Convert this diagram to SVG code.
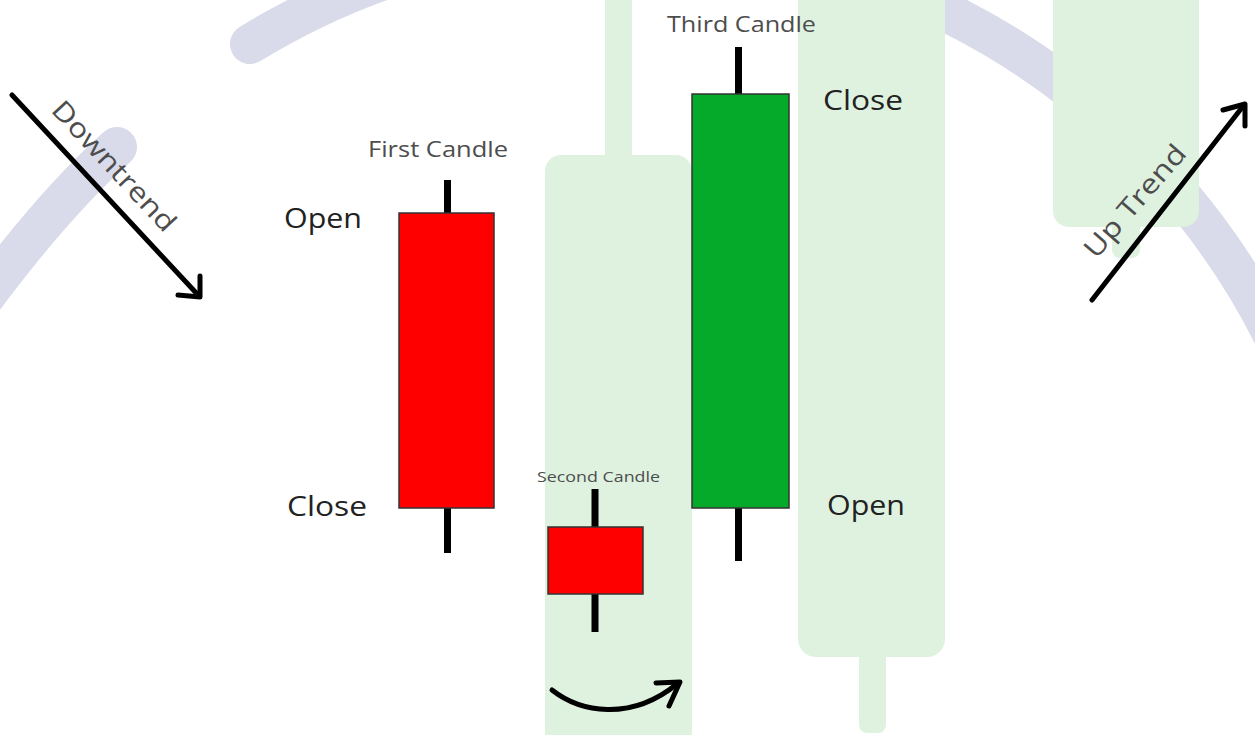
<svg xmlns="http://www.w3.org/2000/svg" width="1255" height="735" viewBox="0 0 1255 735">
  <style>
    .arc { fill: none; stroke: #d9dbea; stroke-width: 40; stroke-linecap: round; }
    .bg { fill: #dff2e0; }
    .wick { stroke: #000; stroke-width: 7; }
    .body { stroke: #333; stroke-width: 1.5; }
    .lbl { font-family: "Open Sans", "Liberation Sans", sans-serif; fill: #4d4d4d; }
    .oc { font-family: "Open Sans", "Liberation Sans", sans-serif; font-size: 27px; fill: #222; }
    .arrow { fill: none; stroke: #000; stroke-width: 5; stroke-linecap: round; stroke-linejoin: round; }
  </style>
  <rect width="1255" height="735" fill="#ffffff"/>

  <g id="background-arc">
    <path class="arc" d="M -25 310 Q 52 205 117 147"/>
    <path class="arc" d="M 250 44 A 724 724 0 0 1 1290 371"/>
  </g>

  <g id="ghost-candles">
    <rect class="bg" x="605" y="-20" width="27" height="200"/>
    <rect class="bg" x="545" y="155" width="147" height="620" rx="16"/>
    <rect class="bg" x="859" y="620" width="27" height="113" rx="8"/>
    <rect class="bg" x="798" y="-30" width="147" height="687" rx="18"/>
    <rect class="bg" x="1112" y="200" width="28" height="58" rx="8"/>
    <rect class="bg" x="1053" y="-30" width="146" height="257" rx="16"/>
  </g>

  <g id="first-candle">
    <line class="wick" x1="447.5" y1="180" x2="447.5" y2="553"/>
    <rect class="body" x="399" y="213" width="95" height="295" fill="#ff0000"/>
    <text class="lbl" x="368" y="157" font-size="21" textLength="140" lengthAdjust="spacingAndGlyphs">First Candle</text>
    <text class="oc" x="284" y="228" textLength="78" lengthAdjust="spacingAndGlyphs">Open</text>
    <text class="oc" x="287" y="516" textLength="80" lengthAdjust="spacingAndGlyphs">Close</text>
  </g>

  <g id="second-candle">
    <line class="wick" x1="595" y1="489" x2="595" y2="632"/>
    <rect class="body" x="548" y="527" width="95" height="67" fill="#ff0000"/>
    <text class="lbl" x="537" y="482" font-size="15" textLength="123" lengthAdjust="spacingAndGlyphs">Second Candle</text>
  </g>

  <g id="third-candle">
    <line class="wick" x1="738.5" y1="47" x2="738.5" y2="561"/>
    <rect class="body" x="692" y="94" width="97" height="414" fill="#05aa2b"/>
    <text class="lbl" x="667" y="32" font-size="21" textLength="149" lengthAdjust="spacingAndGlyphs">Third Candle</text>
    <text class="oc" x="823" y="110" textLength="80" lengthAdjust="spacingAndGlyphs">Close</text>
    <text class="oc" x="827" y="515" textLength="78" lengthAdjust="spacingAndGlyphs">Open</text>
  </g>

  <g id="connectors">
    <g id="downtrend-arrow">
      <line class="arrow" x1="12" y1="95" x2="199" y2="296"/>
      <polyline class="arrow" points="178,295 200,297 200,276"/>
      <text class="lbl" x="50" y="111" font-size="27" textLength="168" lengthAdjust="spacingAndGlyphs" transform="rotate(47 50 111)">Downtrend</text>
    </g>
    <g id="uptrend-arrow">
      <line class="arrow" x1="1092" y1="300" x2="1244" y2="105"/>
      <polyline class="arrow" points="1223,110 1245,104 1245,126"/>
      <text class="lbl" x="1096" y="260" font-size="27" textLength="140" lengthAdjust="spacingAndGlyphs" transform="rotate(-49 1096 260)">Up Trend</text>
    </g>
    <g id="curved-arrow">
      <path class="arrow" stroke-width="6" d="M 552 690 C 580 712 630 722 677 684"/>
      <polyline class="arrow" stroke-width="6" points="656,683 680,682 669,706"/>
    </g>
  </g>
</svg>
